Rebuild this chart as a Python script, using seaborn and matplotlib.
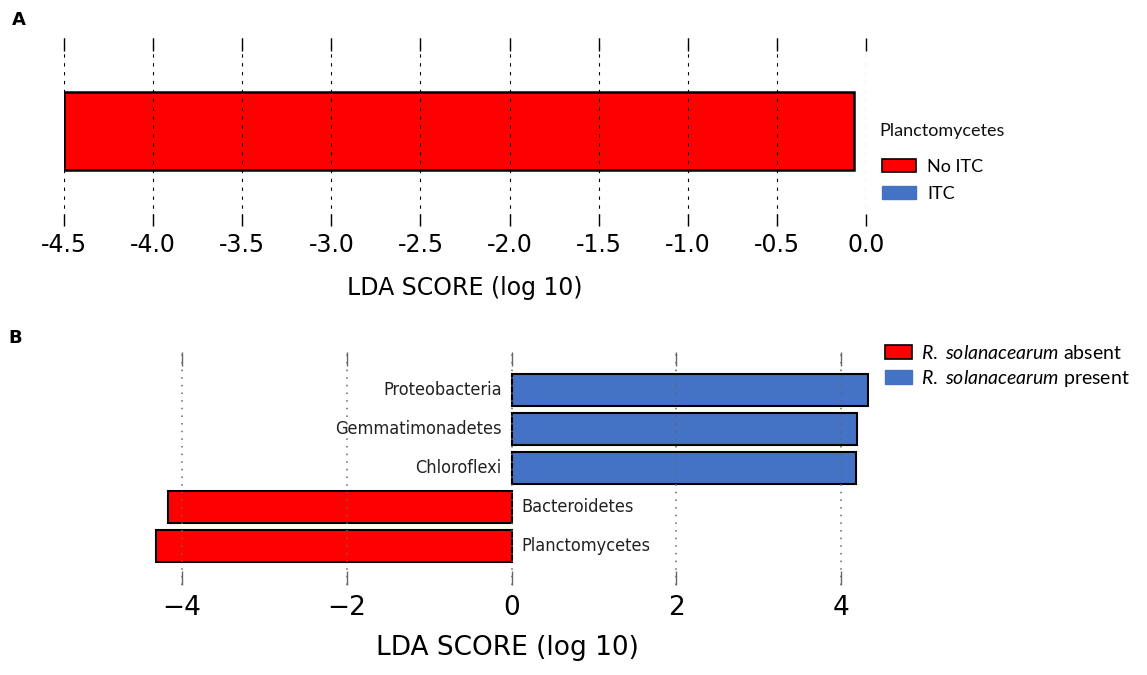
import matplotlib
matplotlib.use("Agg")
import matplotlib.pyplot as plt
from matplotlib.patches import Patch
import pandas as pd
import seaborn as sns

# ---- Panel A: single LEfSe feature ----
a_features = ["Planctomycetes"]
a_scores = [4.43]
a_groups = ["No ITC", "ITC"]
a_ticks = [-4.5, -4.0, -3.5, -3.0, -2.5, -2.0, -1.5, -1.0, -0.5, 0.0]
a_tick_labels = ["-4.5", "-4.0", "-3.5", "-3.0", "-2.5", "-2.0", "-1.5", "-1.0", "-0.5", "0.0"]

# ---- Panel B: LDA scores by phylum ----
b_taxa = ["Proteobacteria", "Gemmatimonadetes", "Chloroflexi", "Bacteroidetes", "Planctomycetes"]
b_scores = [4.33, 4.20, 4.18, -4.17, -4.32]
b_groups = ["present", "present", "present", "absent", "absent"]
b_ticks = [-4, -2, 0, 2, 4]
b_tick_labels = ["\u22124", "\u22122", "0", "2", "4"]
b_legend = [r"$\it{R.\ solanacearum}$ absent", r"$\it{R.\ solanacearum}$ present"]

RED = "#ff0000"
BLUE = "#4472c4"

sns.set_theme(style="white")
plt.rcParams["font.family"] = ["DejaVu Sans"]
plt.rcParams["text.color"] = "black"
plt.rcParams["axes.labelcolor"] = "black"
plt.rcParams["xtick.color"] = "black"
plt.rcParams["mathtext.fontset"] = "custom"
plt.rcParams["mathtext.it"] = "Lato:italic"
plt.rcParams["mathtext.rm"] = "Lato"

W, H = 1147, 675
fig = plt.figure(figsize=(W / 100, H / 100), dpi=100)


def rect(x0, y0, x1, y1):
    return [x0 / W, 1 - y1 / H, (x1 - x0) / W, (y1 - y0) / H]


# ---------------- Panel A ----------------
axA = fig.add_axes(rect(64, 38, 866, 226))
axA.barh([0], a_scores, left=a_ticks[0], height=0.8, color=RED,
         edgecolor="black", linewidth=1.8, zorder=1)
axA.set_xlim(a_ticks[0], a_ticks[-1])
axA.set_ylim(-0.98, 0.95)
axA.set_xticks(a_ticks)
axA.set_xticklabels(a_tick_labels)
axA.set_yticks([])
axA.xaxis.grid(True, color="black", linestyle=(0, (3, 5)), linewidth=0.8)
axA.set_axisbelow(False)
axA.tick_params(axis="x", which="both", direction="in", top=True, bottom=True,
                length=9, width=1, color="black", labelcolor="black",
                labelsize=17, pad=5)
for s in axA.spines.values():
    s.set_visible(False)
axA.set_xlabel("LDA SCORE (log 10)", fontsize=17, labelpad=14, color="black")

fig.text(879 / W, 1 - 131 / H, "Planctomycetes", fontsize=13, family="Lato",
         va="center", ha="left", color="#111111")
fig.legend(
    handles=[Patch(facecolor=RED, edgecolor="black", linewidth=1.2),
             Patch(facecolor=BLUE, edgecolor=BLUE)],
    labels=a_groups, loc="upper left", bbox_to_anchor=(882 / W, 1 - 159 / H),
    frameon=False, handlelength=1.9, handleheight=0.75, handletextpad=0.6,
    labelspacing=0.6, borderpad=0, borderaxespad=0,
    prop={"family": "Lato", "size": 13})

# ---------------- Panel B ----------------
axB = fig.add_axes(rect(145, 352, 869, 585))
dfB = pd.DataFrame({"taxon": b_taxa, "score": b_scores, "group": b_groups})
sns.barplot(data=dfB, x="score", y="taxon", hue="group",
            palette={"absent": RED, "present": BLUE}, dodge=False,
            saturation=1, orient="h", width=0.82, edgecolor="black",
            linewidth=1.5, legend=False, ax=axB)
axB.set_xlim(-4.45, 4.34)
axB.set_ylim(5.0, -0.98)
axB.set_xticks(b_ticks)
axB.set_xticklabels(b_tick_labels)
axB.set_yticks([])
axB.set_ylabel("")
axB.xaxis.grid(True, color="#666666", linestyle=(0, (1, 4)), linewidth=1.1)
axB.set_axisbelow(False)
axB.tick_params(axis="x", which="both", direction="in", top=True, bottom=True,
                length=10, width=1, color="#666666", labelcolor="black",
                labelsize=19, pad=7)
for s in axB.spines.values():
    s.set_visible(False)
axB.set_xlabel("LDA SCORE (log 10)", fontsize=19, labelpad=10, color="black")

for i, (name, score) in enumerate(zip(b_taxa, b_scores)):
    positive = score > 0
    axB.annotate(name, xy=(0, i), xytext=(-7 if positive else 7, 0),
                 textcoords="offset points", ha="right" if positive else "left",
                 va="center", fontsize=13, color="#222222",
                 fontstretch="condensed")

fig.legend(
    handles=[Patch(facecolor=RED, edgecolor="black", linewidth=1.2),
             Patch(facecolor=BLUE, edgecolor=BLUE)],
    labels=b_legend, loc="upper left", bbox_to_anchor=(885 / W, 1 - 344 / H),
    frameon=False, handlelength=1.4, handleheight=0.7, handletextpad=0.45,
    labelspacing=0.3, borderpad=0, borderaxespad=0,
    prop={"family": "Lato", "size": 14})

# Panel letters
fig.text(12 / W, 1 - 20 / H, "A", fontsize=13, fontweight="bold", va="center")
fig.text(8 / W, 1 - 338 / H, "B", fontsize=13, fontweight="bold", va="center")

fig.savefig("out.png", dpi=100)
